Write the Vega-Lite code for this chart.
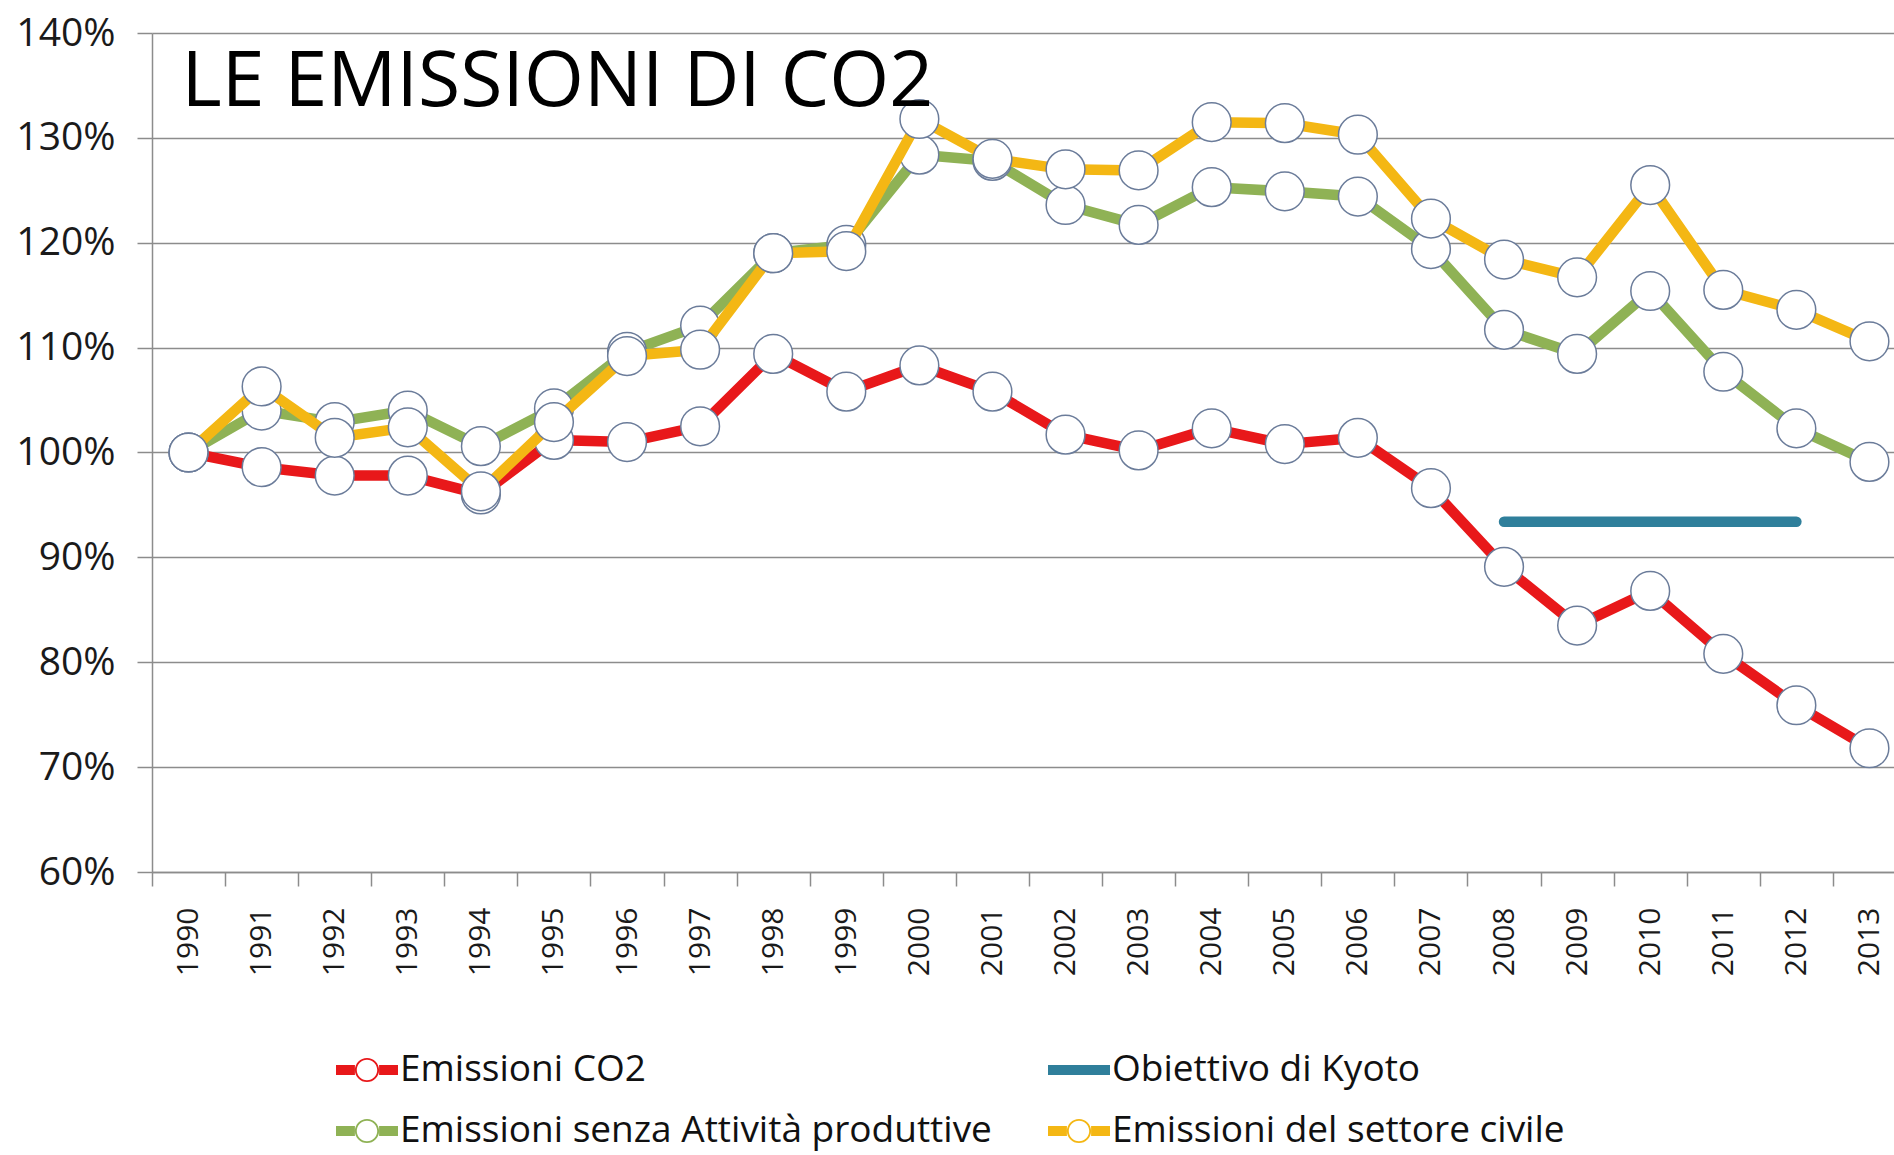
{
  "$schema": "https://vega.github.io/schema/vega-lite/v6.json",
  "width": 1742,
  "height": 839,
  "autosize": {"type": "none"},
  "padding": {"left": 152, "top": 33, "right": 0, "bottom": 283},
  "background": "white",
  "config": {"view": {"stroke": null}, "font": "Open Sans"},
  "datasets": {
    "titolo": [{"label": "LE EMISSIONI DI CO2", "year": "1990", "value": 1.4}]
  },
  "data": {"values": [
    {"year": "1990", "series": "Emissioni CO2", "value": 1.000},
    {"year": "1991", "series": "Emissioni CO2", "value": 0.986},
    {"year": "1992", "series": "Emissioni CO2", "value": 0.978},
    {"year": "1993", "series": "Emissioni CO2", "value": 0.978},
    {"year": "1994", "series": "Emissioni CO2", "value": 0.960},
    {"year": "1995", "series": "Emissioni CO2", "value": 1.012},
    {"year": "1996", "series": "Emissioni CO2", "value": 1.010},
    {"year": "1997", "series": "Emissioni CO2", "value": 1.025},
    {"year": "1998", "series": "Emissioni CO2", "value": 1.094},
    {"year": "1999", "series": "Emissioni CO2", "value": 1.058},
    {"year": "2000", "series": "Emissioni CO2", "value": 1.083},
    {"year": "2001", "series": "Emissioni CO2", "value": 1.058},
    {"year": "2002", "series": "Emissioni CO2", "value": 1.017},
    {"year": "2003", "series": "Emissioni CO2", "value": 1.002},
    {"year": "2004", "series": "Emissioni CO2", "value": 1.023},
    {"year": "2005", "series": "Emissioni CO2", "value": 1.008},
    {"year": "2006", "series": "Emissioni CO2", "value": 1.014},
    {"year": "2007", "series": "Emissioni CO2", "value": 0.966},
    {"year": "2008", "series": "Emissioni CO2", "value": 0.891},
    {"year": "2009", "series": "Emissioni CO2", "value": 0.835},
    {"year": "2010", "series": "Emissioni CO2", "value": 0.868},
    {"year": "2011", "series": "Emissioni CO2", "value": 0.808},
    {"year": "2012", "series": "Emissioni CO2", "value": 0.759},
    {"year": "2013", "series": "Emissioni CO2", "value": 0.718},
    {"year": "2008", "series": "Obiettivo di Kyoto", "value": 0.934},
    {"year": "2009", "series": "Obiettivo di Kyoto", "value": 0.934},
    {"year": "2010", "series": "Obiettivo di Kyoto", "value": 0.934},
    {"year": "2011", "series": "Obiettivo di Kyoto", "value": 0.934},
    {"year": "2012", "series": "Obiettivo di Kyoto", "value": 0.934},
    {"year": "1990", "series": "Emissioni senza Attività produttive", "value": 1.000},
    {"year": "1991", "series": "Emissioni senza Attività produttive", "value": 1.040},
    {"year": "1992", "series": "Emissioni senza Attività produttive", "value": 1.029},
    {"year": "1993", "series": "Emissioni senza Attività produttive", "value": 1.040},
    {"year": "1994", "series": "Emissioni senza Attività produttive", "value": 1.006},
    {"year": "1995", "series": "Emissioni senza Attività produttive", "value": 1.042},
    {"year": "1996", "series": "Emissioni senza Attività produttive", "value": 1.096},
    {"year": "1997", "series": "Emissioni senza Attività produttive", "value": 1.121},
    {"year": "1998", "series": "Emissioni senza Attività produttive", "value": 1.190},
    {"year": "1999", "series": "Emissioni senza Attività produttive", "value": 1.198},
    {"year": "2000", "series": "Emissioni senza Attività produttive", "value": 1.284},
    {"year": "2001", "series": "Emissioni senza Attività produttive", "value": 1.278},
    {"year": "2002", "series": "Emissioni senza Attività produttive", "value": 1.236},
    {"year": "2003", "series": "Emissioni senza Attività produttive", "value": 1.217},
    {"year": "2004", "series": "Emissioni senza Attività produttive", "value": 1.253},
    {"year": "2005", "series": "Emissioni senza Attività produttive", "value": 1.249},
    {"year": "2006", "series": "Emissioni senza Attività produttive", "value": 1.244},
    {"year": "2007", "series": "Emissioni senza Attività produttive", "value": 1.194},
    {"year": "2008", "series": "Emissioni senza Attività produttive", "value": 1.117},
    {"year": "2009", "series": "Emissioni senza Attività produttive", "value": 1.094},
    {"year": "2010", "series": "Emissioni senza Attività produttive", "value": 1.154},
    {"year": "2011", "series": "Emissioni senza Attività produttive", "value": 1.077},
    {"year": "2012", "series": "Emissioni senza Attività produttive", "value": 1.023},
    {"year": "2013", "series": "Emissioni senza Attività produttive", "value": 0.991},
    {"year": "1990", "series": "Emissioni del settore civile", "value": 1.000},
    {"year": "1991", "series": "Emissioni del settore civile", "value": 1.063},
    {"year": "1992", "series": "Emissioni del settore civile", "value": 1.014},
    {"year": "1993", "series": "Emissioni del settore civile", "value": 1.024},
    {"year": "1994", "series": "Emissioni del settore civile", "value": 0.963},
    {"year": "1995", "series": "Emissioni del settore civile", "value": 1.029},
    {"year": "1996", "series": "Emissioni del settore civile", "value": 1.092},
    {"year": "1997", "series": "Emissioni del settore civile", "value": 1.098},
    {"year": "1998", "series": "Emissioni del settore civile", "value": 1.190},
    {"year": "1999", "series": "Emissioni del settore civile", "value": 1.192},
    {"year": "2000", "series": "Emissioni del settore civile", "value": 1.318},
    {"year": "2001", "series": "Emissioni del settore civile", "value": 1.280},
    {"year": "2002", "series": "Emissioni del settore civile", "value": 1.270},
    {"year": "2003", "series": "Emissioni del settore civile", "value": 1.269},
    {"year": "2004", "series": "Emissioni del settore civile", "value": 1.315},
    {"year": "2005", "series": "Emissioni del settore civile", "value": 1.314},
    {"year": "2006", "series": "Emissioni del settore civile", "value": 1.303},
    {"year": "2007", "series": "Emissioni del settore civile", "value": 1.223},
    {"year": "2008", "series": "Emissioni del settore civile", "value": 1.184},
    {"year": "2009", "series": "Emissioni del settore civile", "value": 1.167},
    {"year": "2010", "series": "Emissioni del settore civile", "value": 1.255},
    {"year": "2011", "series": "Emissioni del settore civile", "value": 1.155},
    {"year": "2012", "series": "Emissioni del settore civile", "value": 1.136},
    {"year": "2013", "series": "Emissioni del settore civile", "value": 1.106}
  ]},
  "encoding": {
    "x": {
      "field": "year", "type": "ordinal",
      "scale": {"type": "band", "paddingInner": 0, "paddingOuter": 0, "range": [0, 1754],
        "domain": ["1990","1991","1992","1993","1994","1995","1996","1997","1998","1999","2000","2001","2002","2003","2004","2005","2006","2007","2008","2009","2010","2011","2012","2013"]},
      "axis": {"title": null, "labelAngle": -90, "labelAlign": "right", "labelBaseline": "middle", "labelFont": "Open Sans", "labelFontSize": 30, "labelColor": "#1a1a1a", "tickBand": "extent", "tickSize": 14, "tickColor": "#8c8c8c", "tickWidth": 1.5, "domainColor": "#8c8c8c", "domainWidth": 1.5, "labelPadding": 21, "grid": false}
    },
    "y": {
      "field": "value", "type": "quantitative",
      "scale": {"domain": [0.6, 1.4], "nice": false, "zero": false},
      "axis": {"title": null, "values": [0.6, 0.7, 0.8, 0.9, 1.0, 1.1, 1.2, 1.3, 1.4], "format": ".0%", "grid": true, "gridColor": "#8c8c8c", "gridWidth": 1.5, "tickSize": 15, "tickColor": "#8c8c8c", "tickWidth": 1.5, "domainColor": "#8c8c8c", "domainWidth": 1.5, "labelFont": "Open Sans", "labelFontSize": 39, "labelPadding": 22, "labelColor": "#1a1a1a"}
    }
  },
  "layer": [
    {
      "transform": [{"filter": "datum.series === 'Emissioni CO2'"}],
      "mark": {"type": "line", "color": "#e8181a", "strokeWidth": 10.5, "strokeJoin": "round"}
    },
    {
      "transform": [{"filter": "datum.series === 'Emissioni CO2'"}],
      "mark": {"type": "point", "filled": true, "fill": "white", "stroke": "#6b7c9a", "strokeWidth": 1.5, "size": 1500, "opacity": 1}
    },
    {
      "transform": [{"filter": "datum.series === 'Obiettivo di Kyoto'"}],
      "mark": {"type": "line", "color": "#2f7f9b", "strokeWidth": 10.5, "strokeCap": "round"}
    },
    {
      "transform": [{"filter": "datum.series === 'Emissioni senza Attività produttive'"}],
      "mark": {"type": "line", "color": "#8fb255", "strokeWidth": 10.5, "strokeJoin": "round"}
    },
    {
      "transform": [{"filter": "datum.series === 'Emissioni senza Attività produttive'"}],
      "mark": {"type": "point", "filled": true, "fill": "white", "stroke": "#6b7c9a", "strokeWidth": 1.5, "size": 1500, "opacity": 1}
    },
    {
      "transform": [{"filter": "datum.series === 'Emissioni del settore civile'"}],
      "mark": {"type": "line", "color": "#f4b714", "strokeWidth": 10.5, "strokeJoin": "round"}
    },
    {
      "transform": [{"filter": "datum.series === 'Emissioni del settore civile'"}],
      "mark": {"type": "point", "filled": true, "fill": "white", "stroke": "#6b7c9a", "strokeWidth": 1.5, "size": 1500, "opacity": 1}
    },
    {
      "data": {"name": "titolo"},
      "mark": {"type": "text", "align": "left", "baseline": "alphabetic", "dx": -7, "dy": 73, "font": "Open Sans", "fontSize": 77, "fill": "#000000", "opacity": 1},
      "encoding": {
        "text": {"field": "label", "type": "nominal"}
      }
    },
    {
      "transform": [{"filter": "false"}],
      "mark": {"type": "point", "filled": true, "opacity": 1},
      "encoding": {
        "color": {
          "field": "series", "type": "nominal",
          "scale": {"domain": ["Emissioni CO2", "Obiettivo di Kyoto", "Emissioni senza Attività produttive", "Emissioni del settore civile"], "range": ["#e8181a", "#2f7f9b", "#8fb255", "#f4b714"]},
          "legend": {"title": null, "orient": "none", "direction": "horizontal", "legendX": 184, "legendY": 1006, "columns": 2, "columnPadding": 56, "rowPadding": 12, "symbolSize": 3844, "symbolStrokeWidth": 0, "symbolOpacity": 1, "labelOffset": 2, "labelFont": "Open Sans", "labelFontSize": 37, "labelColor": "#111111", "labelLimit": 2000}
        },
        "shape": {
          "field": "series", "type": "nominal",
          "scale": {"domain": ["Emissioni CO2", "Obiettivo di Kyoto", "Emissioni senza Attività produttive", "Emissioni del settore civile"],
            "range": [
              "M-1,-0.16L-0.39,-0.16L-0.39,0.16L-1,0.16ZM0.39,-0.16L1,-0.16L1,0.16L0.39,0.16ZM0.39,0A0.39,0.39 0 1,1 -0.39,0A0.39,0.39 0 1,1 0.39,0ZM0.33,0A0.33,0.33 0 1,0 -0.33,0A0.33,0.33 0 1,0 0.33,0Z",
              "M-1,-0.16L1,-0.16L1,0.16L-1,0.16Z",
              "M-1,-0.16L-0.39,-0.16L-0.39,0.16L-1,0.16ZM0.39,-0.16L1,-0.16L1,0.16L0.39,0.16ZM0.39,0A0.39,0.39 0 1,1 -0.39,0A0.39,0.39 0 1,1 0.39,0ZM0.33,0A0.33,0.33 0 1,0 -0.33,0A0.33,0.33 0 1,0 0.33,0Z",
              "M-1,-0.16L-0.39,-0.16L-0.39,0.16L-1,0.16ZM0.39,-0.16L1,-0.16L1,0.16L0.39,0.16ZM0.39,0A0.39,0.39 0 1,1 -0.39,0A0.39,0.39 0 1,1 0.39,0ZM0.33,0A0.33,0.33 0 1,0 -0.33,0A0.33,0.33 0 1,0 0.33,0Z"
            ]},
          "legend": {"title": null, "orient": "none", "direction": "horizontal", "legendX": 184, "legendY": 1006, "columns": 2, "columnPadding": 56, "rowPadding": 12, "symbolSize": 3844, "symbolStrokeWidth": 0, "symbolOpacity": 1, "labelOffset": 2, "labelFont": "Open Sans", "labelFontSize": 37, "labelColor": "#111111", "labelLimit": 2000}
        }
      }
    }
  ]
}
